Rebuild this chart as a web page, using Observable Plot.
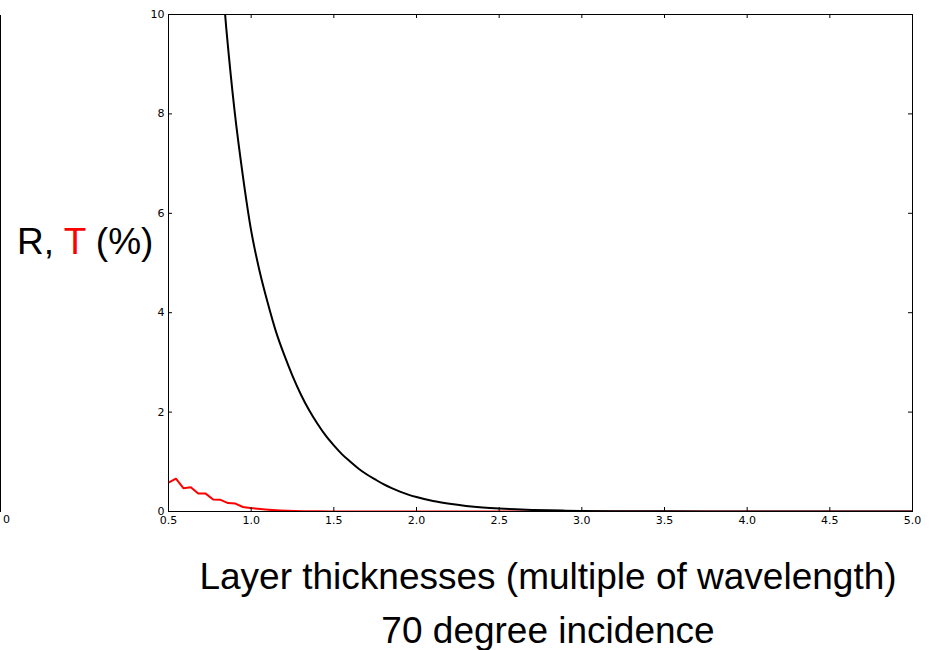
<!DOCTYPE html>
<html><head><meta charset="utf-8">
<script src="https://cdn.jsdelivr.net/npm/d3@7"></script>
<script src="https://cdn.jsdelivr.net/npm/@observablehq/plot@0.6"></script>
<style>
html,body{margin:0;padding:0;background:#fff}
body{width:932px;height:650px;position:relative;overflow:hidden;font-family:"Liberation Sans",Arial,sans-serif}
#chart{position:absolute;left:0;top:0}
.ylab{position:absolute;left:17px;top:223px;font-size:37px;line-height:37px;white-space:nowrap;color:#000}
.xlab{position:absolute;left:548px;transform:translateX(-50%);font-size:37px;line-height:37px;white-space:nowrap;color:#000}
.frag{position:absolute;left:0;top:15px;width:1px;height:497px;background:#000;z-index:2}
.fragtxt{position:absolute;left:3px;top:514px;font-family:"DejaVu Sans";font-size:11px;line-height:11px;color:#000;z-index:2}
</style>
</head>
<body>
<div id="chart"></div>
<div class="frag"></div>
<div class="fragtxt">0</div>
<div class="ylab">R, <span style="color:#ff0000">T</span> (%)</div>
<div class="xlab" style="top:558px">Layer thicknesses (multiple of wavelength)</div>
<div class="xlab" style="top:612px">70 degree incidence</div>
<script>
// Reflectance R (%) vs layer thickness (multiple of wavelength)
const R_thickness = [0.5,0.55,0.6,0.65,0.7,0.75,0.8,0.85,0.9,0.95,1.0,1.05,1.1,1.15,1.2,1.25,1.3,1.35,1.4,1.45,1.5,1.55,1.6,1.65,1.7,1.75,1.8,1.85,1.9,1.95,2.0,2.1,2.2,2.3,2.4,2.5,2.6,2.7,2.8,2.9,3.0,3.25,3.5,4.0,4.5,5.0];
const R_values = [32,27,23,19.5,16.5,13.9,11.7,9.7,8.05,6.75,5.65,4.85,4.2,3.62,3.15,2.73,2.36,2.04,1.77,1.53,1.33,1.15,1.0,0.86,0.745,0.645,0.55,0.47,0.40,0.34,0.29,0.21,0.155,0.113,0.082,0.06,0.044,0.032,0.023,0.017,0.012,0.006,0.003,0.001,0.0004,0.0001];
// Transmittance T (%)
const T_thickness = [0.5,0.545,0.59,0.635,0.68,0.725,0.77,0.815,0.86,0.905,0.95,0.995,1.04,1.085,1.13,1.175,1.22,1.31,1.4,1.5,1.75,2.0,2.5,3.0,4.0,5.0];
const T_values = [0.58,0.66,0.47,0.49,0.36,0.36,0.24,0.235,0.17,0.16,0.09,0.07,0.055,0.04,0.028,0.019,0.013,0.007,0.004,0.002,0.0008,0.0003,0.0001,0,0,0];
// Tick labels
const xTicks = [0.5,1.0,1.5,2.0,2.5,3.0,3.5,4.0,4.5,5.0];
const yTicks = [0,2,4,6,8,10];

const R = R_thickness.map((t,i)=>({t, v:R_values[i]}));
const T = T_thickness.map((t,i)=>({t, v:T_values[i]}));

const W = 932, H = 530, mL = 168, mR = 20, mT = 14, mB = 19;
const innerW = W - mL - mR, innerH = H - mT - mB, tick = 4;

const chart = Plot.plot({
  width: W, height: H,
  marginLeft: mL, marginRight: mR, marginTop: mT, marginBottom: mB,
  x: {domain: [0.5, 5.0], label: null},
  y: {domain: [0, 10], label: null},
  style: {fontFamily: "DejaVu Sans", fontSize: "11px", color: "#000", background: "transparent", overflow: "visible"},
  marks: [
    Plot.line(T, {x: "t", y: "v", stroke: "#ff0000", strokeWidth: 2, clip: true}),
    Plot.line(R, {x: "t", y: "v", stroke: "#000", strokeWidth: 2, curve: "monotone-x", clip: true}),
    Plot.frame({stroke: "#000", strokeWidth: 1}),
    Plot.tickX(xTicks, {x: d => d, insetTop: innerH - tick, stroke: "#000"}),
    Plot.tickX(xTicks, {x: d => d, insetBottom: innerH - tick, stroke: "#000"}),
    Plot.tickY(yTicks, {y: d => d, insetRight: innerW - tick, stroke: "#000"}),
    Plot.tickY(yTicks, {y: d => d, insetLeft: innerW - tick, stroke: "#000"}),
    Plot.axisX(xTicks, {anchor: "bottom", tickSize: 0, tickPadding: 5, tickFormat: d => d.toFixed(1), label: null, fill: "#000"}),
    Plot.axisY(yTicks, {anchor: "left", tickSize: 0, tickPadding: 4, tickFormat: d => String(d), label: null, fill: "#000"})
  ]
});
document.getElementById("chart").appendChild(chart);
</script>
</body></html>
